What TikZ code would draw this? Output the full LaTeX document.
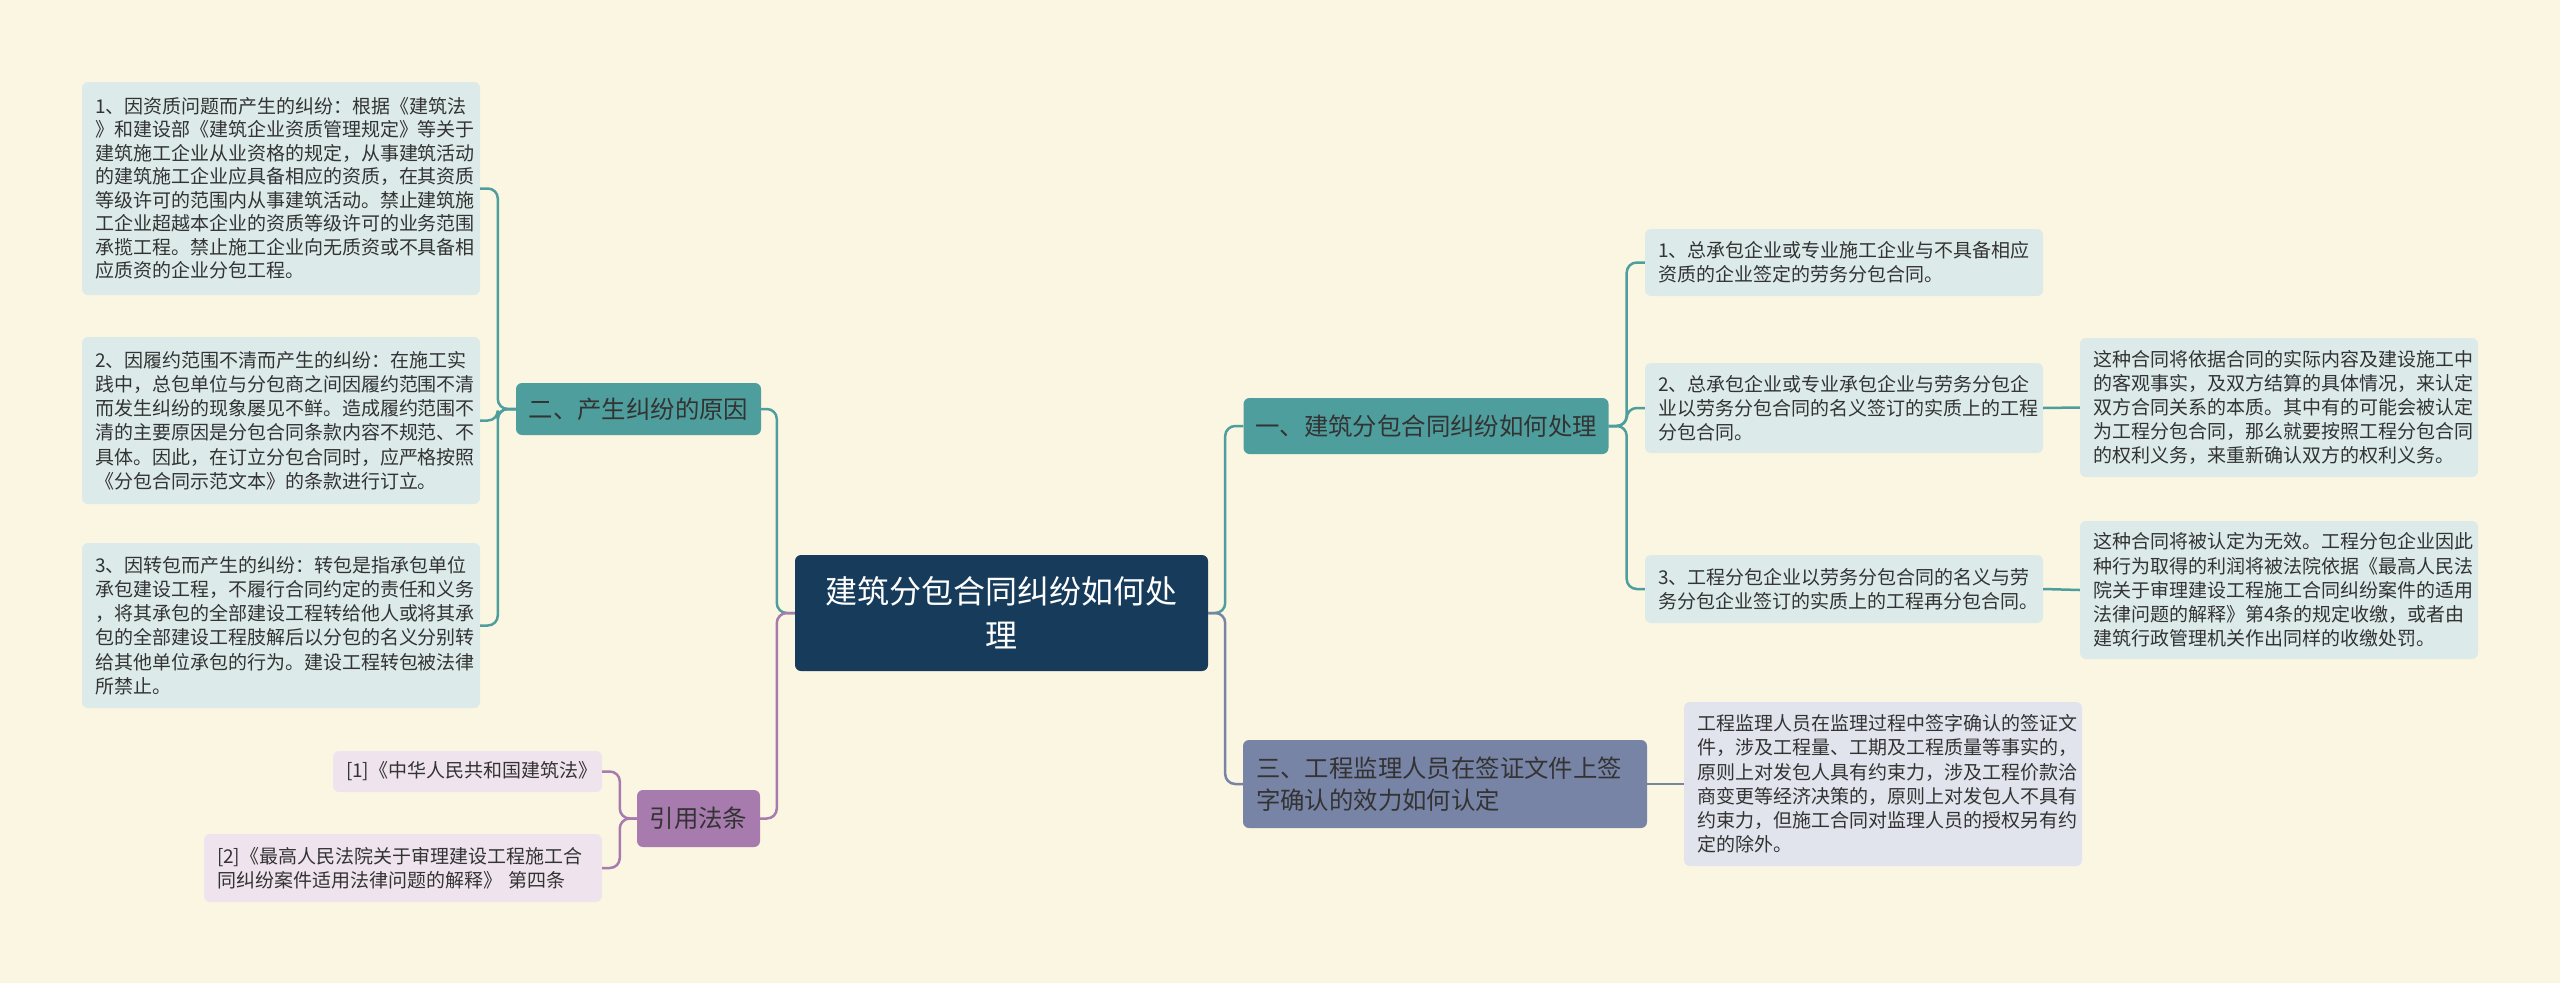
\documentclass[tikz,border=0pt]{standalone}
\usepackage{fontspec}
\setmainfont{Noto Sans CJK SC}
\definecolor{bgc}{HTML}{FBF6E1}
\definecolor{rootc}{HTML}{173B5A}
\definecolor{tealc}{HTML}{4F9E9E}
\definecolor{slatec}{HTML}{7884A6}
\definecolor{purpc}{HTML}{A77BAE}
\definecolor{leaftc}{HTML}{DCEBEA}
\definecolor{leafsc}{HTML}{E1E4EC}
\definecolor{leafpc}{HTML}{EFE4EE}
\definecolor{txtc}{HTML}{333333}
\begin{document}
\begin{tikzpicture}[x=1pt,y=-1pt,
  rootbox/.style={fill=rootc, rounded corners=6pt, text=white, align=center, text width=385pt, inner xsep=14pt, inner ysep=0pt, minimum height=116pt, font=\fontsize{32}{44}\selectfont},
  branchbox/.style={rounded corners=6pt, text=txtc, inner xsep=0pt, inner ysep=0pt, align=center, font=\fontsize{24.4}{32}\selectfont},
  leafbox/.style={rounded corners=6pt, text=txtc, inner xsep=13pt, inner ysep=0pt, align=left, text width=372pt, font=\fontsize{19}{24.2}\selectfont},
  tleaf/.style={leafbox, fill=leaftc},
  sleaf/.style={leafbox, fill=leafsc},
  pleaf/.style={leafbox, fill=leafpc},
  conn/.style={line width=2.5pt, rounded corners=10pt},
  tconn/.style={conn, draw=tealc},
  sconn/.style={conn, draw=slatec},
  pconn/.style={conn, draw=purpc}
]
\useasboundingbox (0,0) rectangle (2560,983);
\fill[bgc] (0,0) rectangle (2560,983);

% root
\node[rootbox] (root) at (1001.5,613) {建筑分包合同纠纷如何处\\理};

% main branches
\node[branchbox, fill=tealc, minimum width=365pt, minimum height=56pt] (b1) at (1426,426) {一、建筑分包合同纠纷如何处理};
\node[branchbox, fill=slatec, minimum width=404pt, minimum height=88pt, align=left, text width=378pt, inner xsep=13pt] (b3) at (1445,784) {三、工程监理人员在签证文件上签\\字确认的效力如何认定};
\node[branchbox, fill=tealc, minimum width=245pt, minimum height=52pt] (b2) at (638.5,409) {二、产生纠纷的原因};
\node[branchbox, fill=purpc, minimum width=123pt, minimum height=57pt] (b4) at (698.5,818.5) {引用法条};

% left leaves
\node[tleaf, minimum height=213pt, font=\fontsize{19}{23.5}\selectfont] (L1) at (281,188.5) {1、因资质问题而产生的纠纷：根据《建筑法\\》和建设部《建筑企业资质管理规定》等关于\\建筑施工企业从业资格的规定，从事建筑活动\\的建筑施工企业应具备相应的资质，在其资质\\等级许可的范围内从事建筑活动。禁止建筑施\\工企业超越本企业的资质等级许可的业务范围\\承揽工程。禁止施工企业向无质资或不具备相\\应质资的企业分包工程。};
\node[tleaf, minimum height=167pt] (L2) at (281,420.5) {2、因履约范围不清而产生的纠纷：在施工实\\践中，总包单位与分包商之间因履约范围不清\\而发生纠纷的现象屡见不鲜。造成履约范围不\\清的主要原因是分包合同条款内容不规范、不\\具体。因此，在订立分包合同时，应严格按照\\《分包合同示范文本》的条款进行订立。};
\node[tleaf, minimum height=165pt] (L3) at (281,625.5) {3、因转包而产生的纠纷：转包是指承包单位\\承包建设工程，不履行合同约定的责任和义务\\，将其承包的全部建设工程转给他人或将其承\\包的全部建设工程肢解后以分包的名义分别转\\给其他单位承包的行为。建设工程转包被法律\\所禁止。};

% references
\node[pleaf, text width=243pt, minimum height=41pt] (R1) at (467.5,771.5) {[1]《中华人民共和国建筑法》};
\node[pleaf, minimum height=68pt] (R2) at (403,868) {[2]《最高人民法院关于审理建设工程施工合\\同纠纷案件适用法律问题的解释》 第四条};

% right leaves
\node[tleaf, minimum height=67pt] (RL1) at (1844,262.5) {1、总承包企业或专业施工企业与不具备相应\\资质的企业签定的劳务分包合同。};
\node[tleaf, minimum height=90pt] (RL2) at (1844,408) {2、总承包企业或专业承包企业与劳务分包企\\业以劳务分包合同的名义签订的实质上的工程\\分包合同。};
\node[tleaf, minimum height=68pt] (RL3) at (1844,589) {3、工程分包企业以劳务分包合同的名义与劳\\务分包企业签订的实质上的工程再分包合同。};
\node[tleaf, minimum height=139pt] (RN1) at (2279,407.5) {这种合同将依据合同的实际内容及建设施工中\\的客观事实，及双方结算的具体情况，来认定\\双方合同关系的本质。其中有的可能会被认定\\为工程分包合同，那么就要按照工程分包合同\\的权利义务，来重新确认双方的权利义务。};
\node[tleaf, minimum height=138pt] (RN2) at (2279,590) {这种合同将被认定为无效。工程分包企业因此\\种行为取得的利润将被法院依据《最高人民法\\院关于审理建设工程施工合同纠纷案件的适用\\法律问题的解释》第4条的规定收缴，或者由\\建筑行政管理机关作出同样的收缴处罚。};
\node[sleaf, minimum height=164pt] (RN3) at (1883,784) {工程监理人员在监理过程中签字确认的签证文\\件，涉及工程量、工期及工程质量等事实的，\\原则上对发包人具有约束力，涉及工程价款洽\\商变更等经济决策的，原则上对发包人不具有\\约束力，但施工合同对监理人员的授权另有约\\定的除外。};

% connectors from root
\draw[tconn] (root.east) -- ++(17,0) |- (b1.west);
\draw[sconn] (root.east) -- ++(17,0) |- (b3.west);
\draw[tconn] (root.west) -- ++(-18,0) |- (b2.east);
\draw[pconn] (root.west) -- ++(-18,0) |- (b4.east);

% branch one
\draw[tconn] (b1.east) -- ++(18,0) |- (RL1.west);
\draw[tconn] (b1.east) -- ++(18,0) |- (RL2.west);
\draw[tconn] (b1.east) -- ++(18,0) |- (RL3.west);
\draw[tconn] (RL2.east) -- (RN1.west);
\draw[tconn] (RL3.east) -- (RN2.west);

% branch three
\draw[sconn] (b3.east) -- (RN3.west);

% branch two
\draw[tconn] (b2.west) -- ++(-18,0) |- (L1.east);
\draw[tconn] (b2.west) -- ++(-18,0) |- (L2.east);
\draw[tconn] (b2.west) -- ++(-18,0) |- (L3.east);

% references
\draw[pconn] (b4.west) -- ++(-17,0) |- (R1.east);
\draw[pconn] (b4.west) -- ++(-17,0) |- (R2.east);
\end{tikzpicture}
\end{document}
